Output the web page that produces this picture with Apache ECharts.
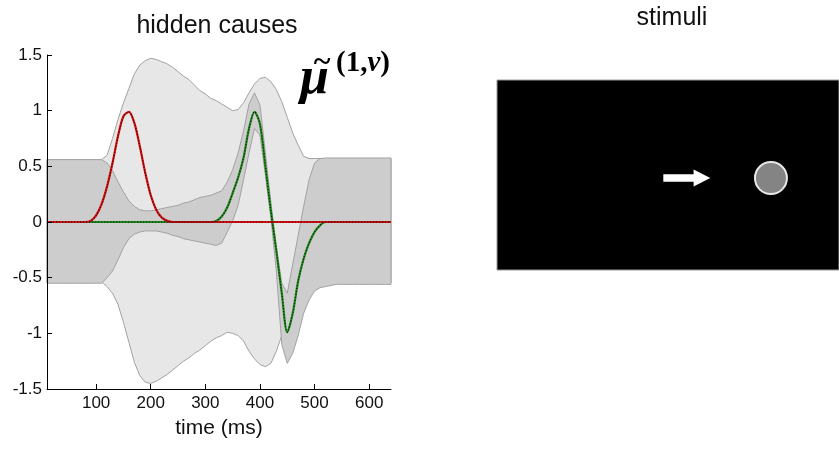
<!DOCTYPE html>
<html><head><meta charset="utf-8">
<script src="https://cdn.jsdelivr.net/npm/echarts@6/dist/echarts.min.js"></script>
<style>html,body{margin:0;padding:0;background:#fff}#c{width:839px;height:450px}</style>
</head><body><div id="c"></div>
<script>
// time grid (ms)
const time = [10,20,30,40,50,60,70,80,90,100,110,120,130,140,150,160,170,180,190,200,210,220,230,240,250,260,270,280,290,300,310,320,330,340,350,360,370,380,390,400,410,420,430,440,450,460,470,480,490,500,510,520,530,540,550,560,570,580,590,600,610,620,630,640];
// hidden cause 1 (red)
const cause1 = [0,0,0,0,0,0,0,0,0.01,0.06,0.16,0.32,0.53,0.77,0.95,0.99,0.89,0.68,0.44,0.24,0.11,0.04,0.01,
  0,0,0,0,0,0,0,0,0,0,0,0,0,0,0,0,0,0,0,0,0,0,0,0,0,0,0,0,0,0,0,0,0,0,0,0,0,0,0,0,0];
// hidden cause 2 (green)
const cause2 = [0,0,0,0,0,0,0,0,0,0,0,0,0,0,0,0,0,0,0,0,0,0,0,0,0,0,0,0,0,0,
  0,0.01,0.05,0.13,0.26,0.40,0.58,0.84,0.99,0.88,0.50,0.10,-0.26,-0.64,-0.99,-0.82,-0.53,-0.33,-0.19,-0.09,-0.03,0,
  0,0,0,0,0,0,0,0,0,0,0,0];
// confidence band of cause 1 (wide, light)
const ci1Upper = [0.56,0.56,0.56,0.56,0.56,0.56,0.56,0.56,0.56,0.56,0.56,
  0.60,0.75,0.92,1.07,1.20,1.33,1.41,1.45,1.47,1.46,1.44,1.42,1.39,1.35,1.31,1.28,1.23,1.18,1.15,1.11,1.09,1.06,1.03,1.00,1.01,1.07,1.16,1.24,1.29,1.30,1.26,1.19,1.08,0.94,0.80,0.69,0.59,0.57,
  0.57,0.57,0.57,0.57,0.57,0.57,0.57,0.57,0.57,0.57,0.57,0.57,0.57,0.57,0.57];
const ci1Lower = [-0.54,-0.54,-0.54,-0.54,-0.54,-0.54,-0.54,-0.54,-0.54,-0.54,-0.54,
  -0.58,-0.64,-0.74,-0.90,-1.08,-1.26,-1.38,-1.44,-1.45,-1.43,-1.40,-1.37,-1.33,-1.29,-1.25,-1.22,-1.18,-1.15,-1.11,-1.07,-1.04,-1.02,-0.99,-1.00,-1.02,-1.07,-1.16,-1.23,-1.28,-1.30,-1.27,-1.16,-1.02,-0.92,-0.80,-0.68,-0.60,-0.56,
  -0.55,-0.55,-0.55,-0.55,-0.55,-0.55,-0.55,-0.55,-0.55,-0.55,-0.55,-0.55,-0.55,-0.55,-0.55];
// confidence band of cause 2 (narrow, dark)
const ci2Upper = [0.56,0.56,0.56,0.56,0.56,0.56,0.56,0.56,0.56,0.56,0.56,
  0.53,0.46,0.36,0.27,0.19,0.14,0.11,0.10,0.10,0.11,0.12,0.13,0.14,0.15,0.17,0.18,0.20,0.22,0.23,0.24,0.26,0.28,0.36,0.47,0.62,0.82,1.06,1.16,1.05,0.62,0.18,-0.22,-0.55,-0.64,-0.38,-0.12,0.14,0.38,0.53,0.57,
  0.575,0.575,0.575,0.575,0.575,0.575,0.575,0.575,0.575,0.575,0.575,0.575,0.575];
const ci2Lower = [-0.55,-0.55,-0.55,-0.55,-0.55,-0.55,-0.55,-0.55,-0.55,-0.55,-0.55,
  -0.50,-0.44,-0.34,-0.23,-0.15,-0.11,-0.09,-0.08,-0.08,-0.08,-0.09,-0.10,-0.12,-0.13,-0.15,-0.16,-0.17,-0.18,-0.19,-0.20,-0.21,-0.19,-0.09,0.01,0.15,0.38,0.62,0.84,0.78,0.42,0.04,-0.44,-1.10,-1.27,-1.18,-1.02,-0.82,-0.70,-0.62,-0.59,-0.58,-0.57,
  -0.56,-0.56,-0.56,-0.56,-0.56,-0.56,-0.56,-0.56,-0.56,-0.56,-0.56];
const xTicks = [100,200,300,400,500,600];
// stimulus panel (normalised screen coordinates)
const ballPos = [[0.801, 0.484]];
const arrowPos = [[0.555, 0.484]];

const FONT = "'Liberation Sans', Arial, Helvetica, sans-serif";
const pairs = arr => time.map((t, i) => [t, arr[i]]);

function band(upper, lower, fill) {
  return {
    type: 'custom', xAxisIndex: 0, yAxisIndex: 0, silent: true,
    data: [[time[0], 0]],
    renderItem(params, api) {
      const pts = [];
      for (let i = 0; i < time.length; i++) pts.push(api.coord([time[i], upper[i]]));
      for (let i = time.length - 1; i >= 0; i--) pts.push(api.coord([time[i], lower[i]]));
      return { type: 'polygon', shape: { points: pts }, style: { fill: fill, stroke: '#a2a2a2', lineWidth: 1 } };
    }
  };
}
function solid(arr, color) {
  return { type: 'line', xAxisIndex: 0, yAxisIndex: 0, data: pairs(arr), showSymbol: false, smooth: 0.3, silent: true,
    lineStyle: { color: color, width: 2.2 } };
}
function dotted(arr) {
  return { type: 'line', xAxisIndex: 0, yAxisIndex: 0, data: pairs(arr), showSymbol: false, smooth: 0.3, silent: true,
    lineStyle: { color: '#1a0000', width: 1.2, type: [1.2, 1.8], opacity: 0.8 } };
}

const chart = echarts.init(document.getElementById('c'), null, { renderer: 'canvas' });
chart.setOption({
  animation: false,
  backgroundColor: '#fff',
  grid: [
    { left: 47, top: 55, width: 344, height: 334 },
    { left: 497, top: 80, width: 344, height: 190, show: true, backgroundColor: '#000', borderColor: '#9a9a9a', borderWidth: 1 }
  ],
  xAxis: [
    { gridIndex: 0, type: 'value', min: 10, max: 640, z: 10,
      axisLine: { onZero: false, lineStyle: { color: '#000', width: 1 } },
      axisTick: { inside: true, length: 5, customValues: xTicks, lineStyle: { color: '#000' } },
      axisLabel: { customValues: xTicks, margin: 6, color: '#111', fontSize: 17, fontFamily: FONT },
      splitLine: { show: false },
      name: 'time (ms)', nameLocation: 'middle', nameGap: 29,
      nameTextStyle: { fontSize: 21, color: '#111', fontFamily: FONT } },
    { gridIndex: 1, type: 'value', min: 0, max: 1, show: false }
  ],
  yAxis: [
    { gridIndex: 0, type: 'value', min: -1.5, max: 1.5, interval: 0.5, z: 10,
      axisLine: { show: true, onZero: false, lineStyle: { color: '#000', width: 1 } },
      axisTick: { show: true, inside: true, length: 5, lineStyle: { color: '#000' } },
      axisLabel: { margin: 5, color: '#111', fontSize: 17, fontFamily: FONT },
      splitLine: { show: false } },
    { gridIndex: 1, type: 'value', min: 0, max: 1, show: false }
  ],
  series: [
    band(ci1Upper, ci1Lower, '#e7e7e7'),
    band(ci2Upper, ci2Lower, '#cdcdcd'),
    solid(cause2, '#1c8a1c'),
    solid(cause1, '#d81010'),
    dotted(cause2),
    dotted(cause1),
    { type: 'scatter', xAxisIndex: 1, yAxisIndex: 1, data: arrowPos, silent: true,
      symbol: 'path://M0,2.8L11.6,2.8L11.6,0L18,5L11.6,10L11.6,7.2L0,7.2Z', symbolSize: [47, 17], symbolKeepAspect: false,
      itemStyle: { color: '#ffffff', opacity: 1 } },
    { type: 'scatter', xAxisIndex: 1, yAxisIndex: 1, data: ballPos, silent: true,
      symbol: 'circle', symbolSize: 32,
      itemStyle: { color: '#848484', borderColor: '#e8e8e8', borderWidth: 2, opacity: 1 } }
  ],
  graphic: [
    { type: 'text', x: 217, y: 26, silent: true,
      style: { text: 'hidden causes', font: "25px " + FONT, fill: '#111', align: 'center', verticalAlign: 'middle' } },
    { type: 'text', x: 672, y: 18, silent: true,
      style: { text: 'stimuli', font: "25px " + FONT, fill: '#111', align: 'center', verticalAlign: 'middle' } },
    { type: 'text', x: 300, y: 80, silent: true,
      style: { text: 'μ', font: "italic bold 52px 'Liberation Serif', 'DejaVu Serif', serif", fill: '#000', align: 'left', verticalAlign: 'middle' } },
    { type: 'text', x: 322, y: 63, silent: true,
      style: { text: '~', font: "bold 32px 'Liberation Serif', 'DejaVu Serif', serif", fill: '#000', align: 'center', verticalAlign: 'middle' } },
    { type: 'text', x: 336, y: 64, silent: true,
      style: { text: '{a|(1,}{b|v}{a|)}', fill: '#000', align: 'left', verticalAlign: 'middle',
        rich: { a: { font: "bold 29px 'Liberation Serif', 'DejaVu Serif', serif", fill: '#000' },
                b: { font: "italic bold 29px 'Liberation Serif', 'DejaVu Serif', serif", fill: '#000' } } } }
  ]
});
</script>
</body></html>
